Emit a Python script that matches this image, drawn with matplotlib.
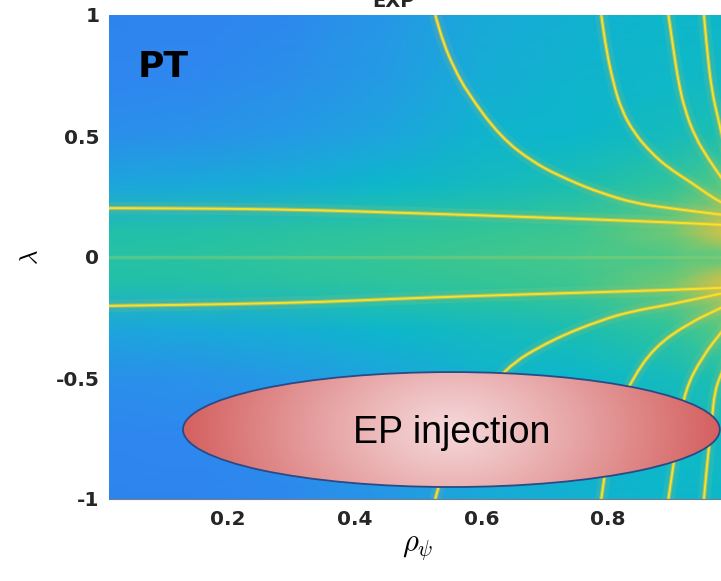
import numpy as np
import matplotlib
matplotlib.use("Agg")
import matplotlib.pyplot as plt
from matplotlib.colors import LinearSegmentedColormap
from matplotlib.patches import Ellipse, PathPatch
from matplotlib.path import Path

plt.rcParams["mathtext.fontset"] = "cm"

# ---------------- data ----------------
# smooth background level (0 = blue, 1 = yellow) sampled on a coarse grid
bg_x = [0.01, 0.15, 0.30, 0.45, 0.60, 0.75, 0.90, 1.00]
bg_lam = [1.0, 0.75, 0.5, 0.3, 0.1, 0.0, -0.1, -0.3, -0.5, -0.75, -1.0]
bg_vals = [
    [0.12, 0.13, 0.16, 0.24, 0.34, 0.39, 0.42, 0.43],
    [0.14, 0.15, 0.19, 0.26, 0.36, 0.40, 0.43, 0.45],
    [0.19, 0.21, 0.25, 0.32, 0.40, 0.42, 0.47, 0.53],
    [0.32, 0.34, 0.37, 0.42, 0.46, 0.50, 0.58, 0.68],
    [0.53, 0.54, 0.56, 0.58, 0.60, 0.62, 0.70, 0.84],
    [0.55, 0.56, 0.58, 0.60, 0.62, 0.63, 0.65, 0.68],
    [0.53, 0.54, 0.56, 0.58, 0.60, 0.62, 0.70, 0.84],
    [0.32, 0.34, 0.37, 0.42, 0.46, 0.50, 0.58, 0.68],
    [0.19, 0.21, 0.25, 0.32, 0.40, 0.42, 0.47, 0.53],
    [0.14, 0.15, 0.19, 0.26, 0.36, 0.40, 0.43, 0.45],
    [0.12, 0.13, 0.16, 0.24, 0.34, 0.39, 0.42, 0.43],
]

# nearly horizontal resonance lines
h1_x = [0.01, 0.20, 0.35, 0.47, 0.60, 0.75, 0.90, 1.00]
h1_lam = [0.202, 0.200, 0.193, 0.183, 0.172, 0.158, 0.143, 0.130]
h2_x = [0.01, 0.20, 0.35, 0.47, 0.60, 0.75, 0.90, 1.00]
h2_lam = [-0.202, -0.195, -0.186, -0.172, -0.160, -0.148, -0.136, -0.125]
h0_x = [0.01, 0.50, 1.00]
h0_lam = [0.0, 0.0, 0.0]

# upper curved resonances
u1_x = [0.527, 0.540, 0.556, 0.578, 0.630, 0.683, 0.737, 0.789, 0.841, 0.895, 0.981, 1.0]
u1_lam = [1.0, 0.884, 0.785, 0.678, 0.496, 0.388, 0.318, 0.264, 0.223, 0.202, 0.174, 0.168]
u2_x = [0.789, 0.797, 0.808, 0.821, 0.841, 0.868, 0.895, 0.932, 0.963, 0.981, 1.0]
u2_lam = [1.0, 0.855, 0.719, 0.607, 0.512, 0.430, 0.368, 0.306, 0.248, 0.223, 0.19]
u3_x = [0.895, 0.903, 0.911, 0.921, 0.937, 0.959, 0.981, 1.0]
u3_lam = [1.0, 0.855, 0.719, 0.607, 0.496, 0.401, 0.318, 0.25]
u4_x = [0.951, 0.956, 0.963, 0.975, 0.981, 1.0]
u4_lam = [1.0, 0.855, 0.690, 0.554, 0.483, 0.33]

# lower curved resonances
l1_x = [0.527, 0.540, 0.556, 0.578, 0.635, 0.710, 0.789, 0.841, 0.895, 0.981, 1.0]
l1_lam = [-1.0, -0.88, -0.78, -0.675, -0.46, -0.343, -0.260, -0.222, -0.198, -0.149, -0.14]
l2_x = [0.789, 0.797, 0.808, 0.821, 0.837, 0.873, 0.927, 0.981, 1.0]
l2_lam = [-1.0, -0.855, -0.719, -0.607, -0.508, -0.372, -0.273, -0.207, -0.18]
l3_x = [0.895, 0.903, 0.911, 0.921, 0.948, 0.981, 1.0]
l3_lam = [-1.0, -0.855, -0.72, -0.55, -0.413, -0.302, -0.24]
l4_x = [0.951, 0.956, 0.963, 0.968, 0.981, 1.0]
l4_lam = [-1.0, -0.855, -0.69, -0.55, -0.467, -0.33]

x_ticks = [0.2, 0.4, 0.6, 0.8]
x_tick_labels = ["0.2", "0.4", "0.6", "0.8"]
y_ticks = [-1, -0.5, 0, 0.5, 1]
y_tick_labels = ["-1", "-0.5", "0", "0.5", "1"]

# ---------------- styling ----------------
cmap_pos = [0.0, 0.15, 0.30, 0.42, 0.52, 0.60, 0.68, 0.76, 0.84, 0.92, 1.0]
cmap_col = ["#2a74ea", "#2e88ee", "#20a2e0", "#0db7cb", "#1ebfad", "#34c596",
            "#5cc97e", "#a6c65a", "#e6bf3e", "#f8c83a", "#f8ec20"]
cmap = LinearSegmentedColormap.from_list("parula_like", list(zip(cmap_pos, cmap_col)))

W, H = 721, 581
fig = plt.figure(figsize=(W / 100, H / 100), dpi=100)
ax_left, ax_right, ax_top, ax_bot = 109, 735, 15, 499
ax = fig.add_axes([ax_left / W, (H - ax_bot) / H, (ax_right - ax_left) / W, (ax_bot - ax_top) / H])

X, Y = np.meshgrid(bg_x, bg_lam)
ax.pcolormesh(X, Y, np.array(bg_vals), shading="gouraud", cmap=cmap, vmin=0, vmax=1, zorder=1)


def smooth_path(xs, ys):
    """Quadratic-Bezier path using the read points as control vertices."""
    pts = np.column_stack([xs, ys])
    verts = [pts[0], (pts[0] + pts[1]) / 2]
    codes = [Path.MOVETO, Path.LINETO]
    for i in range(1, len(pts) - 1):
        verts += [pts[i], (pts[i] + pts[i + 1]) / 2]
        codes += [Path.CURVE3, Path.CURVE3]
    verts.append(pts[-1])
    codes.append(Path.LINETO)
    return Path(verts, codes)


curves = [(h1_x, h1_lam), (h2_x, h2_lam),
          (u1_x, u1_lam), (u2_x, u2_lam), (u3_x, u3_lam), (u4_x, u4_lam),
          (l1_x, l1_lam), (l2_x, l2_lam), (l3_x, l3_lam), (l4_x, l4_lam)]

ax.plot(h0_x, h0_lam, color="#a8d060", lw=2.5, alpha=0.35, zorder=2)
layers = [("#f0c83c", 9.0, 0.10, 2), ("#f4c23c", 3.0, 0.50, 3), ("#f7e22a", 1.4, 1.0, 4)]
for cx_, cl_ in curves:
    p = smooth_path(cx_, cl_)
    for col, lw, al, zo in layers:
        ax.add_patch(PathPatch(p, facecolor="none", edgecolor=col, lw=lw, alpha=al,
                               zorder=zo, capstyle="butt", joinstyle="round"))

# EP injection ellipse with gradient fill
ecx, ecy, ew, eh = 0.5525, -0.713, 0.847, 0.475
gx = np.linspace(-1, 1, 400)
gy = np.linspace(-1, 1, 120)
GX, GY = np.meshgrid(gx, gy)
t = np.clip(np.sqrt(GX ** 2 + 0.12 * GY ** 2), 0, 1) ** 1.1
c0 = np.array([245, 216, 218]) / 255.0
c1 = np.array([212, 96, 95]) / 255.0
rgb = c0 + (c1 - c0) * t[..., None]
ell = Ellipse((ecx, ecy), ew, eh, facecolor="none", edgecolor="#2b4a85", lw=1.3, zorder=6)
ax.add_patch(ell)
im = ax.imshow(rgb, extent=[ecx - ew / 2, ecx + ew / 2, ecy - eh / 2, ecy + eh / 2],
               origin="lower", aspect="auto", interpolation="bilinear", zorder=5)
im.set_clip_path(ell)
ax.text(0.553, -0.769, "EP injection", ha="center", va="baseline", fontsize=27,
        family="Liberation Sans", color="black", zorder=7)

ax.text(0.057, 0.744, "PT", ha="left", va="baseline", fontsize=26, fontweight="bold",
        family="DejaVu Sans", color="black", zorder=7)

ax.set_xlim(0.0123, 1.0)
ax.set_ylim(-1, 1)
ax.set_xticks(x_ticks)
ax.set_xticklabels(x_tick_labels)
ax.set_yticks(y_ticks)
ax.set_yticklabels(y_tick_labels)
for lab in ax.get_xticklabels() + ax.get_yticklabels():
    lab.set_fontweight("bold")
    lab.set_fontsize(14.5)
    lab.set_color("#262626")
    lab.set_family("DejaVu Sans")
ax.tick_params(axis="both", length=0)
ax.tick_params(axis="x", pad=8)
ax.tick_params(axis="y", pad=7)
for s in ["top", "right", "left"]:
    ax.spines[s].set_visible(False)
ax.spines["bottom"].set_color("#6e7f90")
ax.spines["bottom"].set_linewidth(0.8)
ax.spines["bottom"].set_zorder(8)

fig.text(30 / W, (H - 257) / H, r"$\lambda$", rotation=90, ha="center", va="center", fontsize=18)
fig.text(418 / W, (H - 548) / H, r"$\rho_\psi$", ha="center", va="center", fontsize=22)
fig.text(393 / W, (H - 7) / H, "EXP", ha="center", va="baseline", fontsize=14,
         fontweight="bold", family="DejaVu Sans", color="#262626")

fig.savefig("out.png", dpi=100)
